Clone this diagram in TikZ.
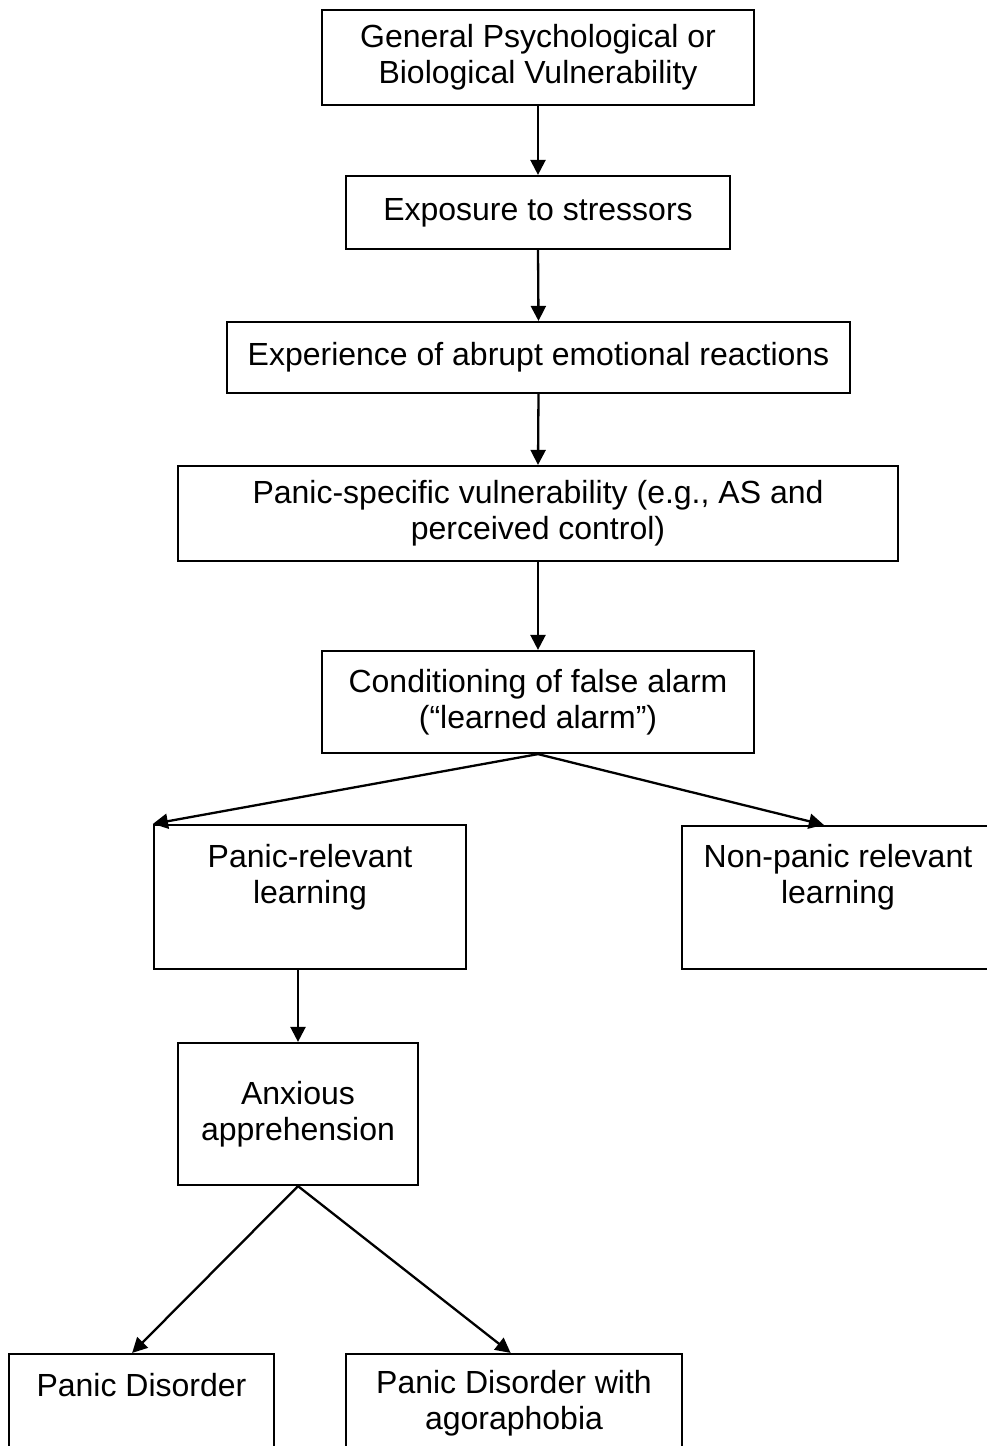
\documentclass[tikz,border=0pt]{standalone}
\usepackage{fontspec}
\setmainfont{Liberation Sans}
\usetikzlibrary{arrows.meta,calc}
\begin{document}
\begin{tikzpicture}[x=1pt,y=-1pt,
  box/.style={draw,line width=2.2pt,inner sep=0pt,align=center,font=\fontsize{32}{36}\selectfont},
  txt/.style={inner sep=0pt,align=center,font=\fontsize{32}{36}\selectfont},
  arr/.style={line width=2.3pt,-{Triangle[length=15pt,width=15pt]}}]
\useasboundingbox (0,0) rectangle (987,1446);
\clip (0,0) rectangle (987,1446);
\node[box,minimum width=432pt,minimum height=95pt] (b1) at (538,57.5) {General Psychological or\\Biological Vulnerability};
\node[box,minimum width=384pt,minimum height=73pt] (b2) at (538,212.5) {Exposure to stressors};
\node[box,minimum width=623pt,minimum height=71pt] (b3) at (538.5,357.5) {Experience of abrupt emotional reactions};
\node[box,minimum width=720pt,minimum height=95pt] (b4) at (538,513.5) {Panic-specific vulnerability (e.g., AS and\\perceived control)};
\node[box,minimum width=432pt,minimum height=102pt] (b5) at (538,702) {Conditioning of false alarm\\(“learned alarm”)};
\node[box,minimum width=312pt,minimum height=144pt] (b6) at (310,897) {};
\node[txt] (t6) at (310,877) {Panic-relevant\\learning};
\node[box,minimum width=312pt,minimum height=143pt] (b7) at (838,897.5) {};
\node[txt] (t7) at (838,877) {Non-panic relevant\\learning};
\node[box,minimum width=240pt,minimum height=142pt] (b8) at (298,1114) {Anxious\\apprehension};
\node[box,minimum width=265pt,minimum height=144pt] (b9) at (141.5,1426) {};
\node[txt] (t9) at (141.5,1385) {Panic Disorder};
\node[box,minimum width=336pt,minimum height=144pt] (b10) at (514,1426) {};
\node[txt] (t10) at (514,1403) {Panic Disorder with\\agoraphobia};
\coordinate (b5s) at ($(b5.south west)!0.5!(b5.south east)$);
\coordinate (b6s) at (b8.north |- b6.south);
\coordinate (b7n) at ($(b7.north west)!0.455!(b7.north east)$);
\coordinate (b8s) at ($(b8.south west)!0.5!(b8.south east)$);
\coordinate (b9n) at ($(b9.north west)!0.465!(b9.north east)$);
\coordinate (b10n) at ($(b10.north west)!0.49!(b10.north east)$);
\draw[arr] (b1.south) -- (b2.north);
\draw[arr] (b2.south) -- (b3.north);
\draw[arr] (b3.south) -- (b4.north);
\draw[arr] (b4.south) -- (b5.north);
\draw[arr] (b5s) -- (b6.north west);
\draw[arr] (b5s) -- (b7n);
\draw[arr] (b6s) -- (b8.north);
\draw[arr] (b8s) -- (b9n);
\draw[arr] (b8s) -- (b10n);
\end{tikzpicture}
\end{document}
